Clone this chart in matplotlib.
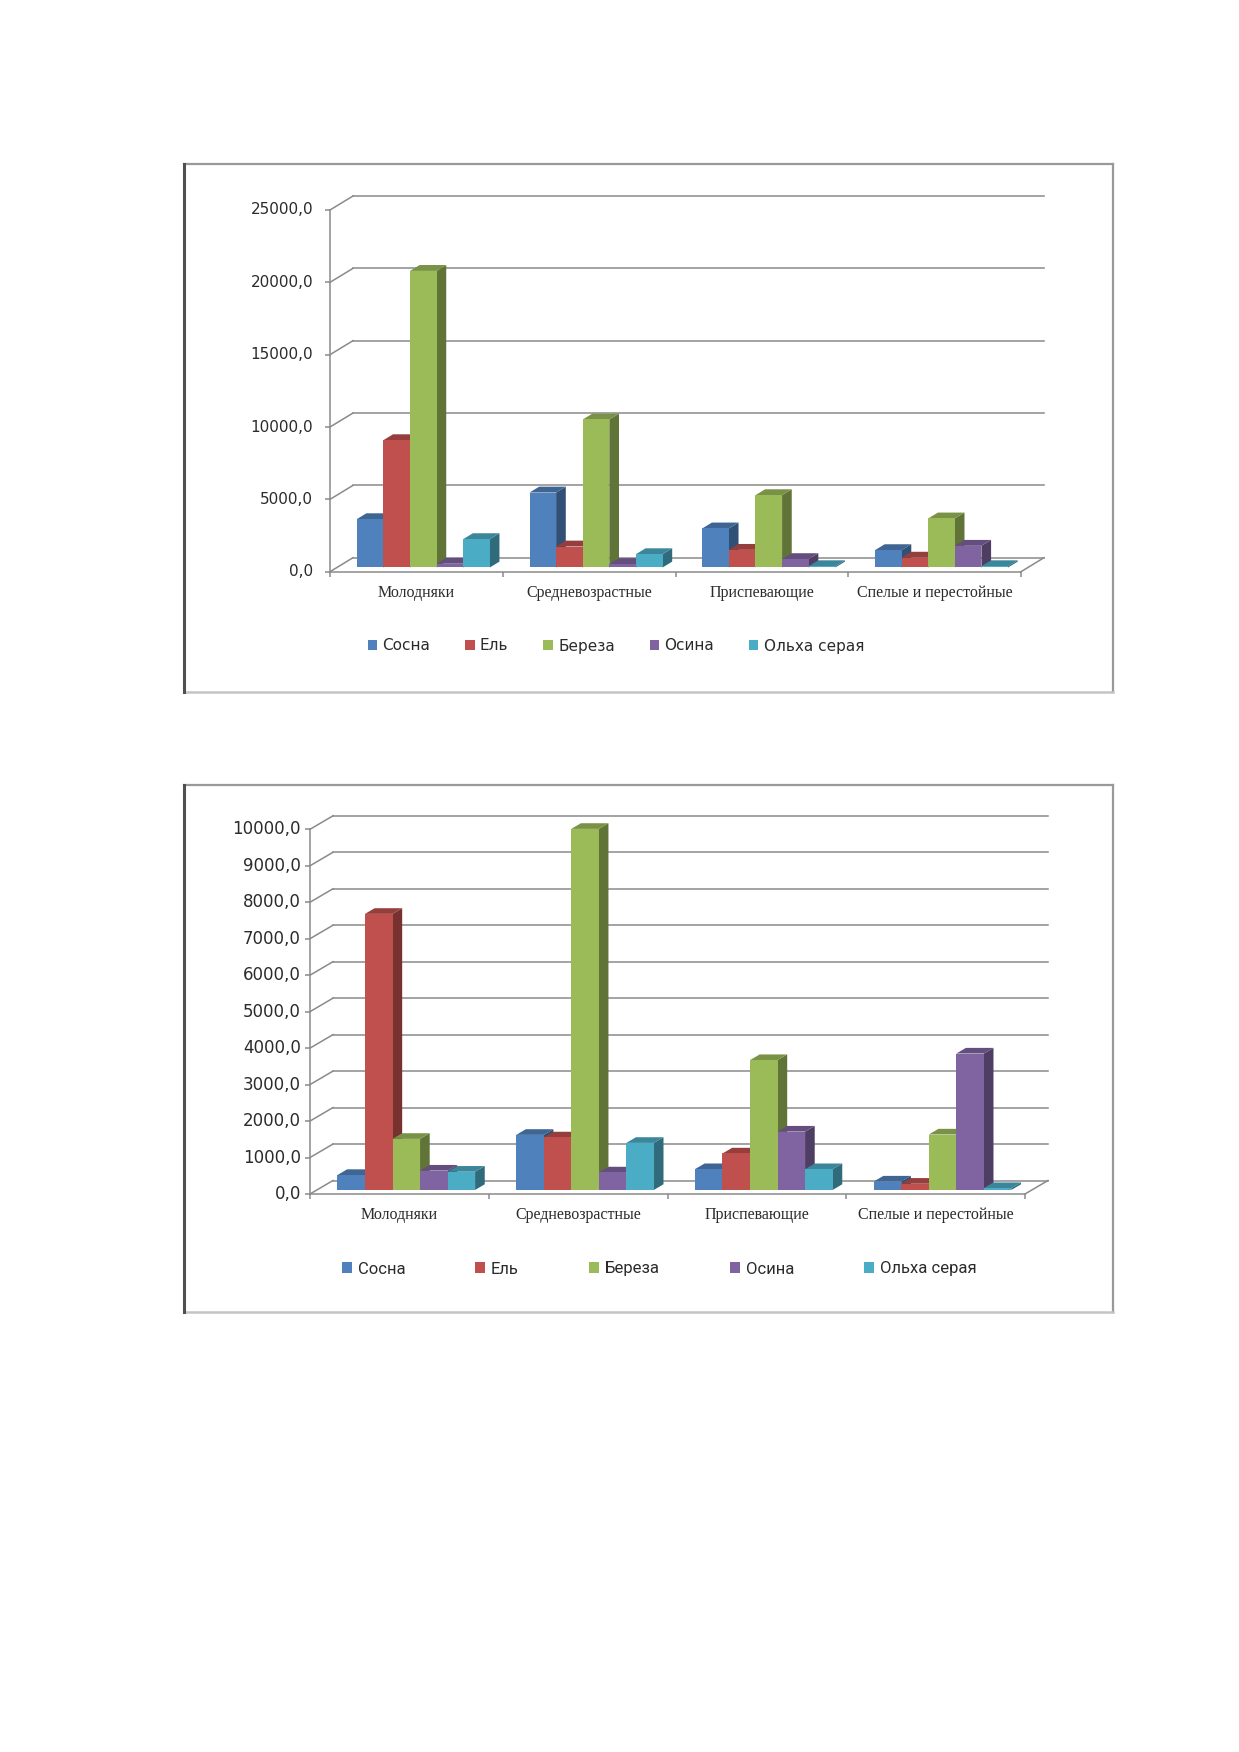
import matplotlib
matplotlib.use("Agg")
import matplotlib.pyplot as plt
import matplotlib.markers as mmarkers
import matplotlib.transforms as mtransforms
from matplotlib.patches import Polygon, Patch
from matplotlib.lines import Line2D
from matplotlib.colors import to_rgb

W, H = 1239, 1752

categories = ["Молодняки", "Средневозрастные", "Приспевающие", "Спелые и перестойные"]
species = ["Сосна", "Ель", "Береза", "Осина", "Ольха серая"]
colors = ["#4F81BD", "#C0504D", "#9BBB59", "#8064A2", "#4BACC6"]

# upper chart
top_sosna = [3340, 5180, 2700, 1200]
top_el = [8800, 1450, 1220, 680]
top_bereza = [20500, 10230, 5000, 3390]
top_osina = [260, 240, 580, 1500]
top_olkha = [1960, 920, 90, 90]
top_ticks = [0, 5000, 10000, 15000, 20000, 25000]

# lower chart
bottom_sosna = [410, 1510, 570, 230]
bottom_el = [7570, 1440, 1000, 170]
bottom_bereza = [1400, 9900, 3560, 1520]
bottom_osina = [530, 480, 1600, 3740]
bottom_olkha = [500, 1290, 570, 50]
bottom_ticks = [0, 1000, 2000, 3000, 4000, 5000, 6000, 7000, 8000, 9000, 10000]

GRID = "#8a8a8a"
TXT = "#2b2b2b"


def shade(c, k):
    r, g, b = to_rgb(c)
    return (r * k, g * k, b * k)


def fmt(v):
    return "{:.1f}".format(v).replace(".", ",")


def draw_frame(fig, box):
    l, t, r, b = box
    tr = fig.transFigure
    fx = lambda x: x / W
    fy = lambda y: 1 - y / H
    fig.add_artist(Line2D([fx(l), fx(r)], [fy(t), fy(t)], color="#999999", lw=1.6, transform=tr))
    fig.add_artist(Line2D([fx(r), fx(r)], [fy(t), fy(b)], color="#999999", lw=1.6, transform=tr))
    fig.add_artist(Line2D([fx(l), fx(r)], [fy(b), fy(b)], color="#c4c4c4", lw=1.8, transform=tr))
    fig.add_artist(Line2D([fx(l), fx(l)], [fy(t), fy(b)], color="#505050", lw=2.2, transform=tr))


def draw_chart(fig, frame, origin, right_x, top_y, depth, vmax, ticks, series,
               tick_size, tick_pad, cat_size, legend_xy, legend_font, legend_size, colspace):
    draw_frame(fig, frame)
    x0, y0 = origin
    dx, dy = depth
    ncat = len(categories)
    ax = fig.add_axes([x0 / W, 1 - y0 / H,
                       (right_x + dx - x0) / W, (y0 - (top_y - dy)) / H])
    ppx = (right_x - x0) / ncat
    ppy = (y0 - top_y) / vmax
    ddx = dx / ppx
    ddy = dy / ppy
    ax.set_xlim(0, ncat + ddx)
    ax.set_ylim(0, vmax + ddy)
    ax.axis("off")

    # back wall, side wall and floor
    lab = mtransforms.offset_copy(ax.transData, fig=fig, x=-tick_pad, y=0, units="dots")
    for v in ticks:
        ax.plot([ddx, ncat + ddx], [v + ddy, v + ddy], color=GRID, lw=1.1, zorder=1, clip_on=False)
        ax.plot([0, ddx], [v, v + ddy], color=GRID, lw=1.1, zorder=1, clip_on=False)
        ax.plot(0, v, marker=mmarkers.TICKLEFT, ms=3.5, mew=1.1, color=GRID, clip_on=False)
        ax.text(0, v, fmt(v), transform=lab, ha="right", va="center",
                fontsize=tick_size, color=TXT, family="DejaVu Sans")
    ax.plot([0, 0], [0, vmax], color=GRID, lw=1.1, zorder=2, clip_on=False)
    ax.plot([0, ncat], [0, 0], color=GRID, lw=1.1, zorder=2, clip_on=False)
    ax.plot([ncat, ncat + ddx], [0, ddy], color=GRID, lw=1.1, zorder=2, clip_on=False)
    for i in range(ncat + 1):
        ax.plot(i, 0, marker=mmarkers.TICKDOWN, ms=3.5, mew=1.1, color=GRID, clip_on=False)
    cat_tr = mtransforms.offset_copy(ax.transData, fig=fig, x=0, y=-21, units="dots")
    for i, c in enumerate(categories):
        ax.text(i + 0.5, 0, c, transform=cat_tr, ha="center", va="center",
                fontsize=cat_size, color=TXT, family="Liberation Serif")

    # 3d-looking columns
    nser = len(series)
    w = 0.154
    start = (1 - nser * w) / 2
    f, d = 0.3, 0.42
    for j, vals in enumerate(series):
        c = colors[j]
        xs = [i + start + j * w + f * ddx for i in range(ncat)]
        for x, v in zip(xs, vals):
            yb = f * ddy
            side = [(x + w, yb), (x + w, yb + v), (x + w + d * ddx, yb + v + d * ddy),
                    (x + w + d * ddx, yb + d * ddy)]
            topf = [(x, yb + v), (x + w, yb + v), (x + w + d * ddx, yb + v + d * ddy),
                    (x + d * ddx, yb + v + d * ddy)]
            ax.add_patch(Polygon(side, closed=True, facecolor=shade(c, 0.62), lw=0, zorder=3 + j))
            ax.add_patch(Polygon(topf, closed=True, facecolor=shade(c, 0.78), lw=0, zorder=3 + j))
        ax.bar(xs, vals, width=w, bottom=f * ddy, align="edge", color=c, lw=0, zorder=3 + j)

    handles = [Patch(facecolor=c, edgecolor="none") for c in colors]
    ax.legend(handles, species, loc="center", ncol=nser, frameon=False,
              bbox_to_anchor=(legend_xy[0] / W, 1 - legend_xy[1] / H), bbox_transform=fig.transFigure,
              handlelength=0.6, handleheight=0.6, handletextpad=0.35, columnspacing=colspace,
              prop={"family": legend_font, "size": legend_size}, labelcolor=TXT)
    return ax


fig = plt.figure(figsize=(W / 100, H / 100), dpi=100)
fig.patch.set_facecolor("white")

draw_chart(fig, (184, 164, 1113, 692), (330, 571.7), 1021, 210, (23, 14), 25000, top_ticks,
           [top_sosna, top_el, top_bereza, top_osina, top_olkha],
           11, 17, 11.5, (616, 646), "DejaVu Sans", 11, 2.3)

draw_chart(fig, (184, 785, 1113, 1312), (310, 1194), 1025, 829.3, (23, 13.5), 10000, bottom_ticks,
           [bottom_sosna, bottom_el, bottom_bereza, bottom_osina, bottom_olkha],
           12, 9, 11.5, (659, 1269), "Roboto", 12, 4.2)

fig.savefig("out.png", dpi=100, facecolor="white")
